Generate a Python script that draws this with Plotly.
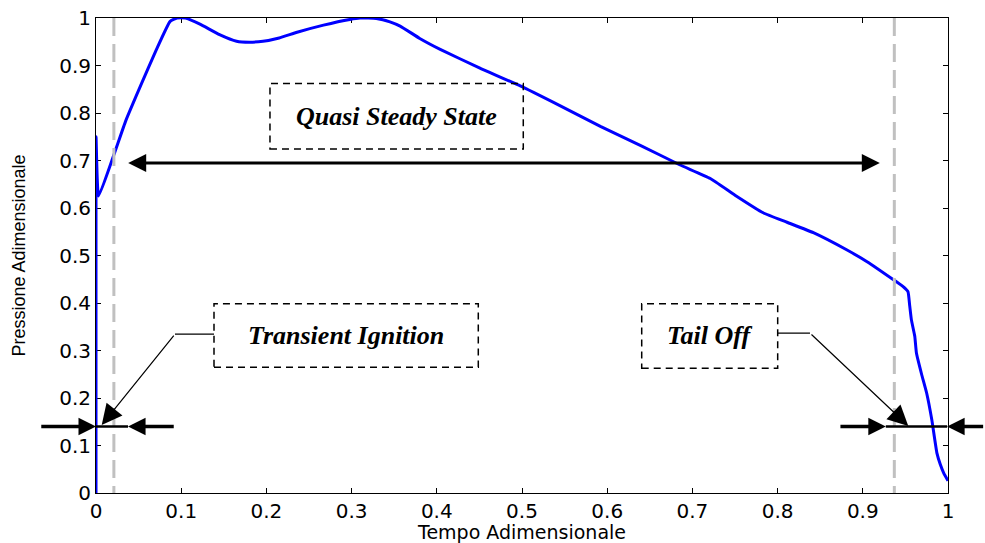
import plotly.graph_objects as go

# Normalised chamber pressure vs normalised time
tempo = [0.0, 0.0, 0.003, 0.021, 0.035, 0.052, 0.071, 0.087, 0.095, 0.105, 0.122,
         0.145, 0.165, 0.180, 0.196, 0.215, 0.236, 0.267, 0.298, 0.310, 0.329,
         0.345, 0.357, 0.380, 0.404, 0.450, 0.498, 0.545, 0.592, 0.640, 0.685,
         0.721, 0.750, 0.783, 0.811, 0.842, 0.881, 0.905, 0.936, 0.947, 0.953,
         0.955, 0.957, 0.961, 0.963, 0.969, 0.975, 0.981, 0.987, 0.991, 0.995, 1.0]
pressione = [0.0, 0.75, 0.625, 0.712, 0.784, 0.856, 0.934, 0.993, 1.0, 1.0, 0.987,
             0.965, 0.951, 0.949, 0.951, 0.958, 0.970, 0.985, 0.997, 1.0, 0.999,
             0.992, 0.983, 0.957, 0.934, 0.895, 0.857, 0.815, 0.772, 0.731, 0.691,
             0.662, 0.627, 0.590, 0.570, 0.548, 0.512, 0.487, 0.449, 0.435, 0.424,
             0.395, 0.365, 0.330, 0.294, 0.250, 0.210, 0.154, 0.084, 0.060, 0.042, 0.026]

# Phase boundaries (end of ignition transient, start of tail-off)
confini_fase = [0.021, 0.937]

tick_vals = [0.0, 0.1, 0.2, 0.3, 0.4, 0.5, 0.6, 0.7, 0.8, 0.9, 1.0]
tick_text = ["0", "0.1", "0.2", "0.3", "0.4", "0.5", "0.6", "0.7", "0.8", "0.9", "1"]

# Phase labels: text, box [x0, x1, y0, y1]
fasi = ["Quasi Steady State", "Transient Ignition", "Tail Off"]
box_fasi = [[0.2042, 0.5015, 0.7243, 0.862],
            [0.1385, 0.4487, 0.2649, 0.3983],
            [0.6405, 0.8001, 0.2628, 0.3983]]

# Duration arrows
y_quasi = 0.695
quasi_estremi = [0.036, 0.920]
y_durata = 0.14
ign_estremi = [-0.066, 0.0, 0.0376, 0.093]
tail_estremi = [0.872, 0.927, 0.999, 1.043]

# Leader lines: box edge -> elbow -> arrow tip
leader_ign = [(0.1385, 0.3345), (0.0927, 0.3345), (0.0067, 0.143)]
leader_tail = [(0.8001, 0.3366), (0.838, 0.3366), (0.9534, 0.1412)]

fig = go.Figure()
fig.add_trace(go.Scatter(x=tempo, y=pressione, mode="lines",
                         line=dict(color="#0000ff", width=3, shape="spline", smoothing=0.4),
                         cliponaxis=False, hoverinfo="skip", showlegend=False))

shapes = []
for xc in confini_fase:
    shapes.append(dict(type="line", xref="x", yref="y", x0=xc, x1=xc, y0=1, y1=0,
                       line=dict(color="#c0c0c0", width=3, dash="18px,8px")))
for b in box_fasi:
    shapes.append(dict(type="rect", xref="x", yref="y", x0=b[0], x1=b[1], y0=b[2], y1=b[3],
                       line=dict(color="black", width=1.5, dash="7px,5px"),
                       fillcolor="rgba(0,0,0,0)"))
for ld in (leader_ign, leader_tail):
    shapes.append(dict(type="line", xref="x", yref="y", x0=ld[0][0], y0=ld[0][1],
                       x1=ld[1][0], y1=ld[1][1], line=dict(color="black", width=1.2)))
# middle parts of duration markers
shapes.append(dict(type="line", xref="x", yref="y", x0=ign_estremi[1], x1=ign_estremi[2],
                   y0=y_durata, y1=y_durata, line=dict(color="black", width=2.5)))
shapes.append(dict(type="line", xref="x", yref="y", x0=tail_estremi[1], x1=tail_estremi[2],
                   y0=y_durata, y1=y_durata, line=dict(color="black", width=2.5)))

annotations = []
label_font = dict(family="Liberation Serif", size=26, color="black",
                  weight="bold", style="italic")
for txt, b in zip(fasi, box_fasi):
    annotations.append(dict(x=(b[0] + b[1]) / 2, y=(b[2] + b[3]) / 2, xref="x", yref="y",
                            text=txt, showarrow=False, font=label_font,
                            xanchor="center", yanchor="middle"))


def freccia(x_tail, y_tail, x_head, y_head, width, size, **kw):
    return dict(x=x_head, y=y_head, ax=x_tail, ay=y_tail, xref="x", yref="y",
                axref="x", ayref="y", text="", showarrow=True, arrowhead=2,
                arrowwidth=width, arrowsize=size, arrowcolor="black", **kw)


# Quasi steady state span
annotations.append(freccia(quasi_estremi[0], y_quasi, quasi_estremi[1], y_quasi, 3, 1.2,
                           arrowside="end+start", startarrowhead=2, startarrowsize=1.2))
# Ignition span markers
annotations.append(freccia(ign_estremi[0], y_durata, ign_estremi[1], y_durata, 3.5, 1.0))
annotations.append(freccia(ign_estremi[3], y_durata, ign_estremi[2], y_durata, 3.5, 1.0))
# Tail-off span markers
annotations.append(freccia(tail_estremi[0], y_durata, tail_estremi[1], y_durata, 3.5, 1.0))
annotations.append(freccia(tail_estremi[3], y_durata, tail_estremi[2], y_durata, 3.5, 1.0))
# Leader arrows
for ld in (leader_ign, leader_tail):
    annotations.append(freccia(ld[1][0], ld[1][1], ld[2][0], ld[2][1], 1.2, 3.4))

axis_common = dict(range=[0, 1], showgrid=False, zeroline=False, showline=True,
                   linecolor="black", linewidth=1, mirror="ticks", ticks="inside",
                   ticklen=5, tickwidth=1, tickcolor="black", layer="below traces",
                   tickvals=tick_vals, ticktext=tick_text, automargin=False)

tick_font = dict(family="DejaVu Sans", size=20, color="black")

fig.update_layout(
    width=985, height=543,
    margin=dict(l=96, r=37, t=18, b=50),
    paper_bgcolor="white", plot_bgcolor="white",
    shapes=shapes, annotations=annotations,
    xaxis=dict(**axis_common, tickfont=tick_font,
               title=dict(text="Tempo Adimensionale", standoff=0,
                          font=dict(family="DejaVu Sans", size=19, color="black"))),
    yaxis=dict(**axis_common, tickfont=tick_font,
               title=dict(text="Pressione Adimensionale", standoff=28,
                          font=dict(family="Liberation Sans", size=18, color="black"))),
)

fig.write_html("out.html")
